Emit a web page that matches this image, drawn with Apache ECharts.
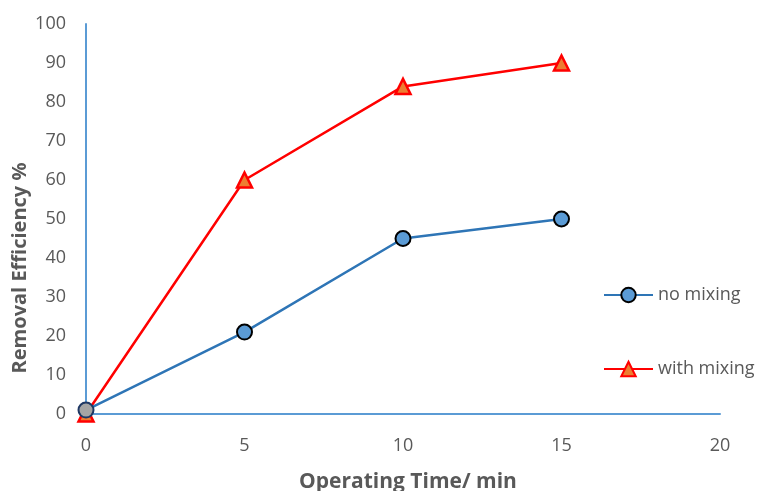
<!DOCTYPE html>
<html>
<head>
<meta charset="utf-8">
<script src="https://cdn.jsdelivr.net/npm/echarts@6/dist/echarts.min.js"></script>
<style>html,body{margin:0;padding:0;background:#fff;overflow:hidden}#c{width:760px;height:491px}</style>
</head>
<body>
<div id="c"></div>
<script>
var times = [0, 5, 10, 15];
var noMixing = [1, 21, 45, 50];
var withMixing = [0, 60, 84, 90];
var xTicks = [0, 5, 10, 15, 20];
var yTicks = [0, 10, 20, 30, 40, 50, 60, 70, 80, 90, 100];

var chart = echarts.init(document.getElementById('c'));
var font = 'Open Sans';
function pairs(vals) { return times.map(function (t, i) { return [t, vals[i]]; }); }
var noMixData = pairs(noMixing).map(function (p, i) {
  if (i === 0) return { value: p, itemStyle: { color: '#a5a5a5', borderColor: '#1f3864' } };
  return p;
});
chart.setOption({
  animation: false,
  grid: { left: 86, right: 40, top: 24, bottom: 77, containLabel: false, outerBoundsMode: 'none' },
  xAxis: {
    type: 'value', min: 0, max: 20, interval: 5,
    axisLine: { show: true, lineStyle: { color: '#5b9bd5', width: 2 } },
    axisTick: { show: false },
    splitLine: { show: false },
    axisLabel: { color: '#595959', fontSize: 18, fontFamily: font, margin: 23 },
    name: 'Operating Time/ min', nameLocation: 'middle', nameGap: 58, nameMoveOverlap: false,
    nameTextStyle: { color: '#595959', fontSize: 21, fontWeight: 'bold', fontFamily: font, padding: [0, 0, 0, 10] }
  },
  yAxis: {
    type: 'value', min: 0, max: 100, interval: 10,
    axisLine: { show: true, lineStyle: { color: '#5b9bd5', width: 2 } },
    axisTick: { show: false },
    splitLine: { show: false },
    axisLabel: { color: '#595959', fontSize: 18, fontFamily: font, margin: 20 },
    name: 'Removal Efficiency %', nameLocation: 'middle', nameGap: 56, nameMoveOverlap: false,
    nameTextStyle: { color: '#595959', fontSize: 20, fontWeight: 'bold', fontFamily: font, padding: [0, 98, 0, 0] }
  },
  legend: {
    orient: 'vertical', left: 598, top: 281, itemGap: 56,
    itemWidth: 49, itemHeight: 18,
    textStyle: { color: '#595959', fontSize: 18, fontFamily: font },
    data: ['no mixing', 'with mixing']
  },
  series: [
    {
      name: 'with mixing', type: 'line', data: pairs(withMixing), z: 2,
      symbol: 'triangle', symbolSize: 15,
      lineStyle: { color: '#ff0000', width: 2.5 },
      itemStyle: { color: '#ed7d31', borderColor: '#ff0000', borderWidth: 2.5 }
    },
    {
      name: 'no mixing', type: 'line', data: noMixData, z: 3,
      symbol: 'circle', symbolSize: 15,
      lineStyle: { color: '#2e75b6', width: 2.5 },
      itemStyle: { color: '#5b9bd5', borderColor: '#000000', borderWidth: 2 }
    }
  ]
});
</script>
</body>
</html>
